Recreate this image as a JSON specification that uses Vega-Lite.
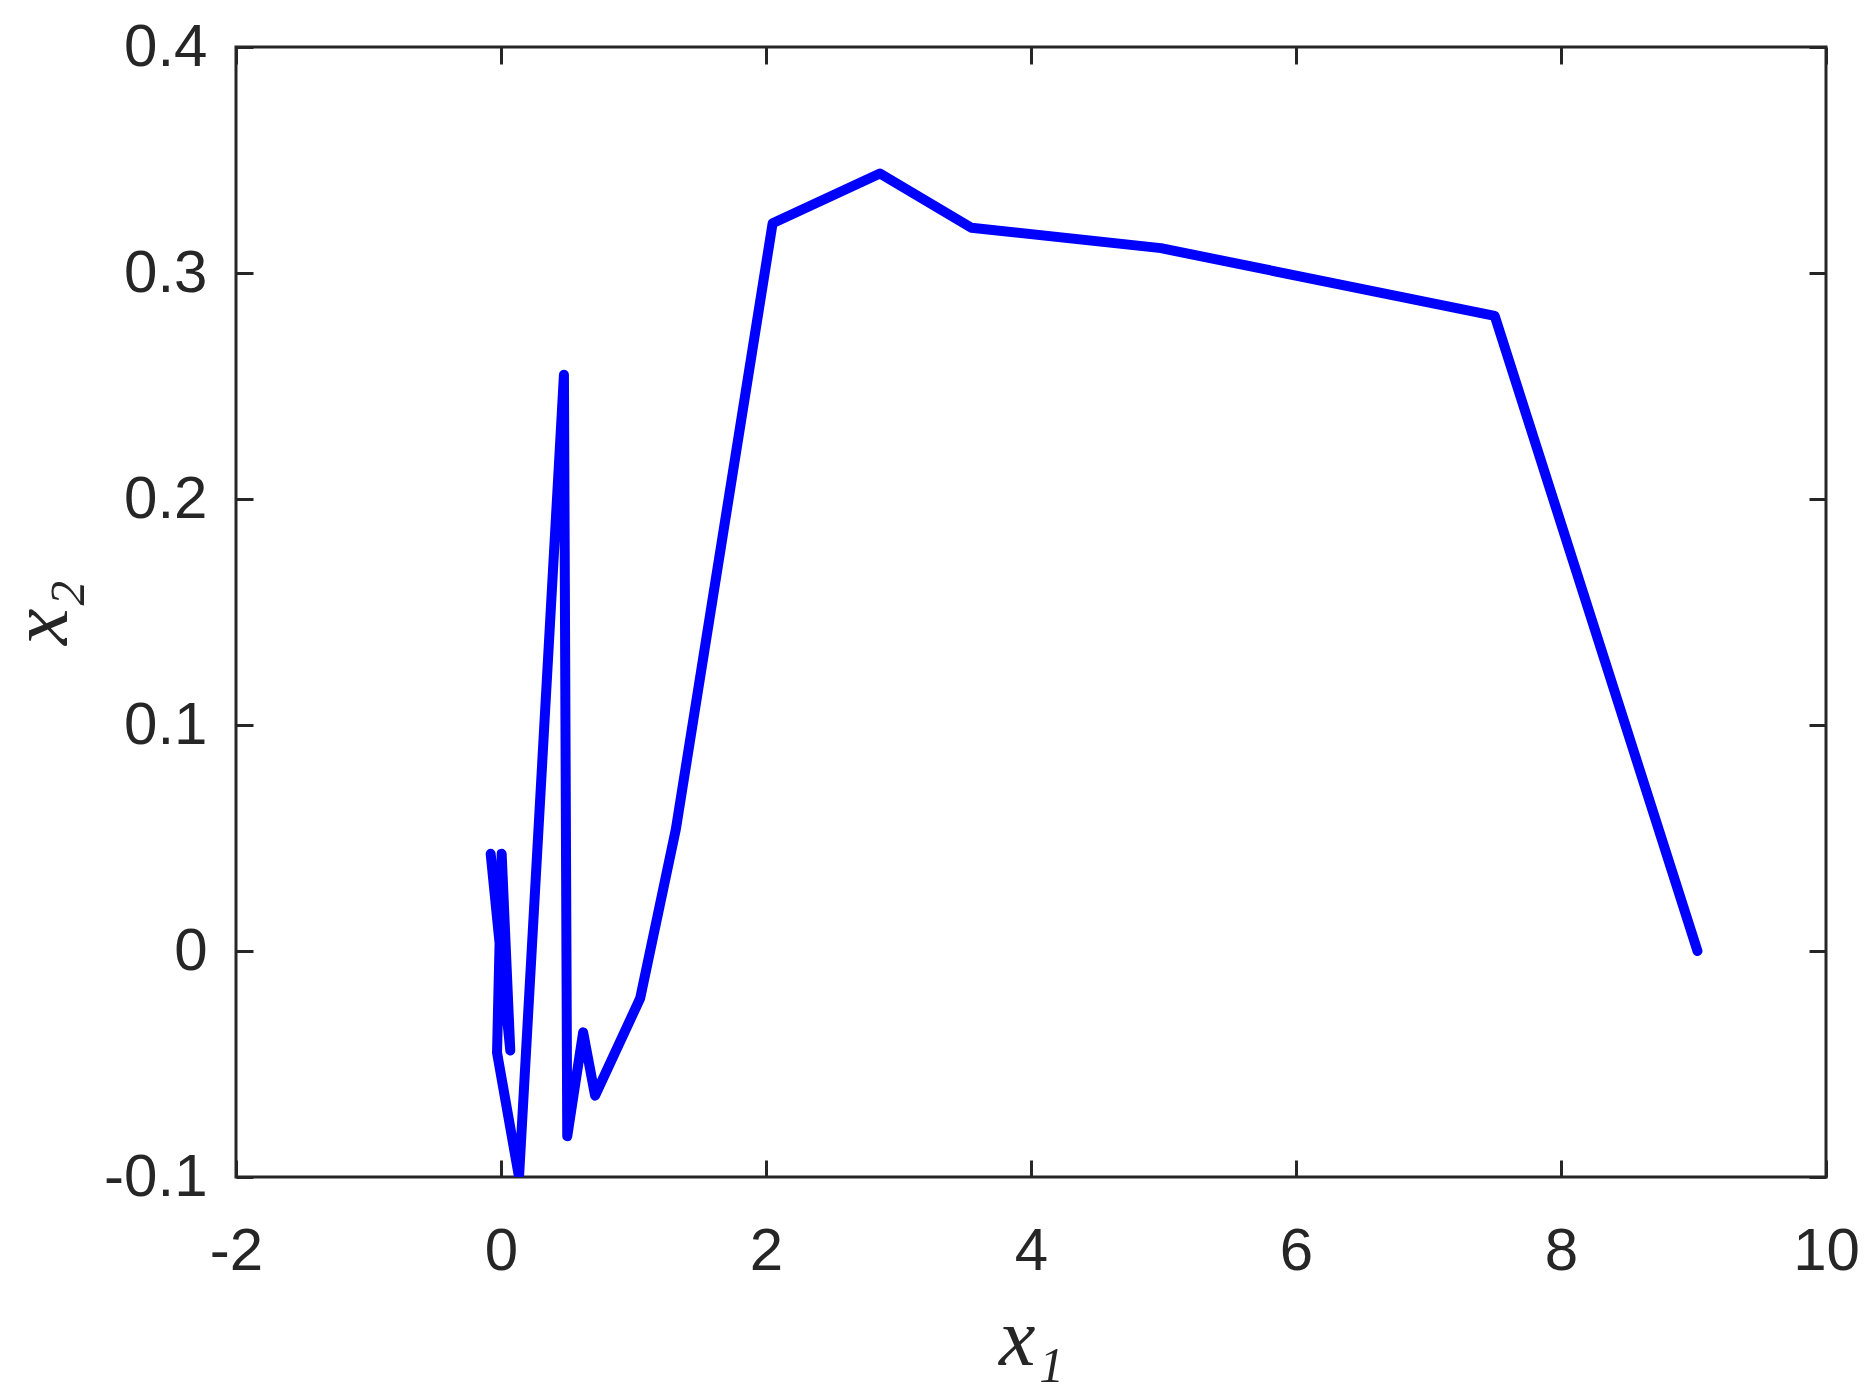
{
  "$schema": "https://vega.github.io/schema/vega-lite/v6.json",
  "autosize": {"type": "none"},
  "padding": {"left": 236, "top": 47, "right": 47, "bottom": 221},
  "width": 1590,
  "height": 1130,
  "background": "white",
  "config": {
    "view": {"stroke": "#262626", "strokeWidth": 3},
    "font": "Liberation Sans",
    "axis": {
      "grid": false,
      "domain": false,
      "tickColor": "#262626",
      "tickWidth": 3,
      "tickSize": -17,
      "labelFlush": false,
      "labelColor": "#262626",
      "labelFont": "Liberation Sans",
      "labelFontSize": 60,
      "titleColor": "#262626",
      "titleFont": "Liberation Serif",
      "titleFontStyle": "italic",
      "titleFontWeight": "normal",
      "titleFontSize": 82
    }
  },
  "data": {
    "values": [
      {"i": 1, "x1": -0.078, "x2": 0.043},
      {"i": 2, "x1": 0.07, "x2": -0.044},
      {"i": 3, "x1": 0.005, "x2": 0.043},
      {"i": 4, "x1": -0.03, "x2": -0.045},
      {"i": 5, "x1": 0.136, "x2": -0.1},
      {"i": 6, "x1": 0.475, "x2": 0.255},
      {"i": 7, "x1": 0.5, "x2": -0.082},
      {"i": 8, "x1": 0.62, "x2": -0.036},
      {"i": 9, "x1": 0.71, "x2": -0.064},
      {"i": 10, "x1": 1.05, "x2": -0.021},
      {"i": 11, "x1": 1.32, "x2": 0.054},
      {"i": 12, "x1": 2.05, "x2": 0.322},
      {"i": 13, "x1": 2.86, "x2": 0.344},
      {"i": 14, "x1": 3.55, "x2": 0.32},
      {"i": 15, "x1": 4.98, "x2": 0.311},
      {"i": 16, "x1": 7.5, "x2": 0.281},
      {"i": 17, "x1": 9.03, "x2": 0.0}
    ]
  },
  "layer": [
    {
      "mark": {"type": "line", "color": "#0000FF", "strokeWidth": 10, "strokeJoin": "round", "strokeCap": "round", "clip": true},
      "encoding": {
        "order": {"field": "i", "type": "quantitative"},
        "x": {
          "field": "x1", "type": "quantitative",
          "scale": {"domain": [-2, 10], "nice": false, "zero": false},
          "axis": {"orient": "bottom", "values": [-2, 0, 2, 4, 6, 8, 10], "labelPadding": 62, "labelExpr": "replace(format(datum.value, 'd'), '\u2212', '-')", "title": "x\u2081", "titlePadding": 18}
        },
        "y": {
          "field": "x2", "type": "quantitative",
          "scale": {"domain": [-0.1, 0.4], "nice": false, "zero": false},
          "axis": {"orient": "left", "values": [-0.1, 0, 0.1, 0.2, 0.3, 0.4], "labelPadding": 46, "labelExpr": "datum.value == 0 ? '0' : replace(format(datum.value, '.1f'), '\u2212', '-')", "title": "x\u2082", "titlePadding": 20}
        }
      }
    },
    {
      "mark": {"type": "line", "opacity": 0},
      "encoding": {
        "order": {"field": "i", "type": "quantitative"},
        "x": {
          "field": "x1", "type": "quantitative",
          "axis": {"orient": "top", "values": [-2, 0, 2, 4, 6, 8, 10], "labels": false, "title": null}
        },
        "y": {
          "field": "x2", "type": "quantitative",
          "axis": {"orient": "right", "values": [-0.1, 0, 0.1, 0.2, 0.3, 0.4], "labels": false, "title": null}
        }
      }
    }
  ],
  "resolve": {"axis": {"x": "independent", "y": "independent"}}
}
